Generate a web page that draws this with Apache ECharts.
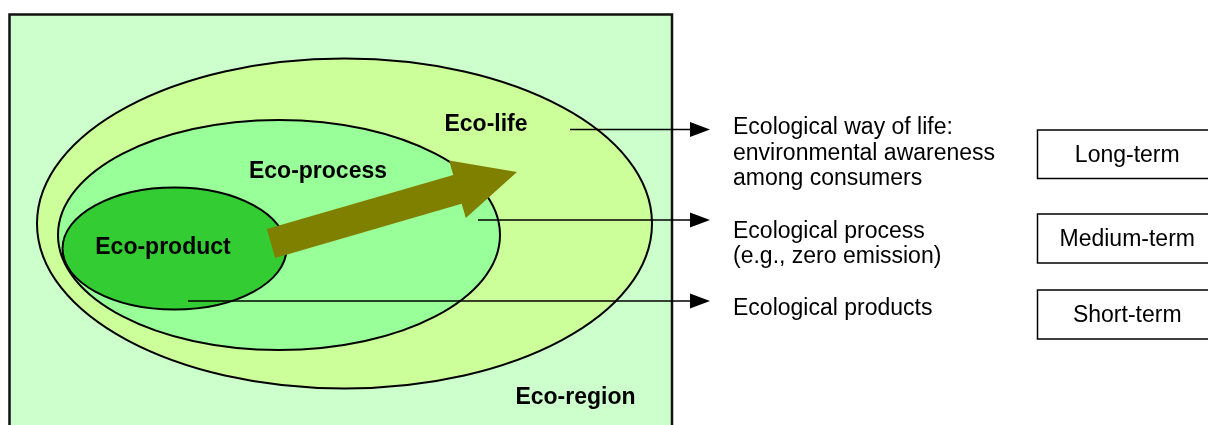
<!DOCTYPE html>
<html><head><meta charset="utf-8">
<script src="https://cdn.jsdelivr.net/npm/echarts@6/dist/echarts.min.js"></script>
<style>html,body{margin:0;padding:0;background:#fff}#c{width:1208px;height:425px}</style>
</head><body><div id="c"></div><script>
// ---- diagram content (diagram units, 1 unit = 1 px of the 1208x425 canvas) ----
const regionName = 'Eco-region';
const regionBounds = [[9.5, 14.5], [672, 445]];
const regionLabelAt = [575.5, 397.5];
const zoneNames = ['Eco-life', 'Eco-process', 'Eco-product'];
const zoneCenters = [[344.5, 223.5], [279, 235], [174.5, 248.5]];
const zoneRadii = [[307.5, 165], [221, 115], [112, 61]];
const zoneLabelAt = [[486, 124.5], [318, 171.5], [163, 247.5]];
const progressArrow = [[271, 243.5], [517, 172]];
const arrowShaftWidth = 30, arrowHeadWidth = 60, arrowHeadLength = 62;
const pointerStarts = [[570, 129.5], [478, 220], [188, 301]];
const pointerEndX = 710;
const descriptions = [
  'Ecological way of life:\nenvironmental awareness\namong consumers',
  'Ecological process\n(e.g., zero emission)',
  'Ecological products'
];
const descriptionAt = [[733, 153.5], [733, 244], [733, 309]];
const horizons = ['Long-term', 'Medium-term', 'Short-term'];
const horizonRows = [[130, 178.5], [214, 263], [290, 339]];
const horizonCols = [1037.5, 1216];

// ---- styles ----
const regionColor = '#CCFFCC';
const zoneColors = ['#CCFF99', '#99FF99', '#33CC33'];
const arrowColor = '#808000';
const FONT = '"Liberation Sans", Arial, Helvetica, sans-serif';

const chart = echarts.init(document.getElementById('c'), null, {renderer: 'canvas'});

const option = {
  animation: false,
  backgroundColor: '#ffffff',
  grid: {left: 0, right: 0, top: 0, bottom: 0},
  xAxis: {type: 'value', min: 0, max: 1208, show: false},
  yAxis: {type: 'value', min: 0, max: 425, inverse: true, show: false},
  series: [
    {
      type: 'custom', z: 1, clip: false, silent: true,
      data: [[regionBounds[0][0], regionBounds[0][1], regionBounds[1][0], regionBounds[1][1]]],
      renderItem: (params, api) => {
        const p0 = api.coord([api.value(0), api.value(1)]);
        const p1 = api.coord([api.value(2), api.value(3)]);
        return {type: 'rect', shape: {x: p0[0], y: p0[1], width: p1[0] - p0[0], height: p1[1] - p0[1]},
          style: {fill: regionColor, stroke: '#111', lineWidth: 2.5}};
      }
    },
    {
      type: 'custom', z: 2, clip: false, silent: true,
      data: zoneCenters.map((c, i) => [c[0], c[1], zoneRadii[i][0], zoneRadii[i][1]]),
      renderItem: (params, api) => {
        const c = api.coord([api.value(0), api.value(1)]);
        const s = api.size([api.value(2), api.value(3)]);
        return {type: 'ellipse', shape: {cx: c[0], cy: c[1], rx: s[0], ry: s[1]},
          style: {fill: zoneColors[params.dataIndex], stroke: '#000', lineWidth: 2}};
      }
    },
    {
      type: 'custom', z: 3, clip: false, silent: true,
      data: [[progressArrow[0][0], progressArrow[0][1], progressArrow[1][0], progressArrow[1][1]]],
      renderItem: (params, api) => {
        const a = api.coord([api.value(0), api.value(1)]);
        const b = api.coord([api.value(2), api.value(3)]);
        const dx = b[0] - a[0], dy = b[1] - a[1];
        const len = Math.sqrt(dx * dx + dy * dy);
        const ux = dx / len, uy = dy / len;
        const nx = -uy, ny = ux;
        const sw = api.size([arrowShaftWidth, 0])[0] / 2;
        const hw = api.size([arrowHeadWidth, 0])[0] / 2;
        const hl = api.size([arrowHeadLength, 0])[0];
        const bx = b[0] - ux * hl, by = b[1] - uy * hl;
        const pts = [
          [a[0] + nx * sw, a[1] + ny * sw],
          [bx + nx * sw, by + ny * sw],
          [bx + nx * hw, by + ny * hw],
          [b[0], b[1]],
          [bx - nx * hw, by - ny * hw],
          [bx - nx * sw, by - ny * sw],
          [a[0] - nx * sw, a[1] - ny * sw]
        ];
        return {type: 'polygon', shape: {points: pts}, style: {fill: arrowColor}};
      }
    },
    {
      type: 'custom', z: 4, clip: false, silent: true,
      data: pointerStarts.map(p => [p[0], p[1], pointerEndX]),
      renderItem: (params, api) => {
        const s = api.coord([api.value(0), api.value(1)]);
        const e = api.coord([api.value(2), api.value(1)]);
        const head = 20, half = 7.5;
        return {type: 'group', children: [
          {type: 'line', shape: {x1: s[0], y1: s[1], x2: e[0] - head + 1, y2: e[1]},
            style: {stroke: '#000', lineWidth: 1.5}},
          {type: 'polygon', shape: {points: [[e[0] - head, e[1] - half], [e[0], e[1]], [e[0] - head, e[1] + half]]},
            style: {fill: '#000'}}
        ]};
      }
    },
    {
      type: 'custom', z: 5, clip: false, silent: true,
      data: zoneLabelAt.concat([regionLabelAt]),
      renderItem: (params, api) => {
        const p = api.coord([api.value(0), api.value(1)]);
        const txt = params.dataIndex < zoneNames.length ? zoneNames[params.dataIndex] : regionName;
        return {type: 'text', x: p[0], y: p[1],
          style: {text: txt, fill: '#000', fontFamily: FONT, fontWeight: 'bold', fontSize: 23,
            align: 'center', verticalAlign: 'middle'}};
      }
    },
    {
      type: 'custom', z: 5, clip: false, silent: true,
      data: descriptionAt,
      renderItem: (params, api) => {
        const p = api.coord([api.value(0), api.value(1)]);
        return {type: 'text', x: p[0], y: p[1],
          style: {text: descriptions[params.dataIndex], fill: '#000', fontFamily: FONT, fontSize: 23,
            lineHeight: 25.5, align: 'left', verticalAlign: 'middle'}};
      }
    },
    {
      type: 'custom', z: 5, clip: false, silent: true,
      data: horizonRows.map(r => [horizonCols[0], r[0], horizonCols[1], r[1]]),
      renderItem: (params, api) => {
        const p0 = api.coord([api.value(0), api.value(1)]);
        const p1 = api.coord([api.value(2), api.value(3)]);
        return {type: 'group', children: [
          {type: 'rect', shape: {x: p0[0], y: p0[1], width: p1[0] - p0[0], height: p1[1] - p0[1]},
            style: {fill: '#fff', stroke: '#000', lineWidth: 1.5}},
          {type: 'text', x: (p0[0] + p1[0]) / 2 + 0.5, y: (p0[1] + p1[1]) / 2 + 1.5,
            style: {text: horizons[params.dataIndex], fill: '#000', fontFamily: FONT, fontSize: 23,
              align: 'center', verticalAlign: 'middle'}}
        ]};
      }
    }
  ]
};
chart.setOption(option);
</script></body></html>
